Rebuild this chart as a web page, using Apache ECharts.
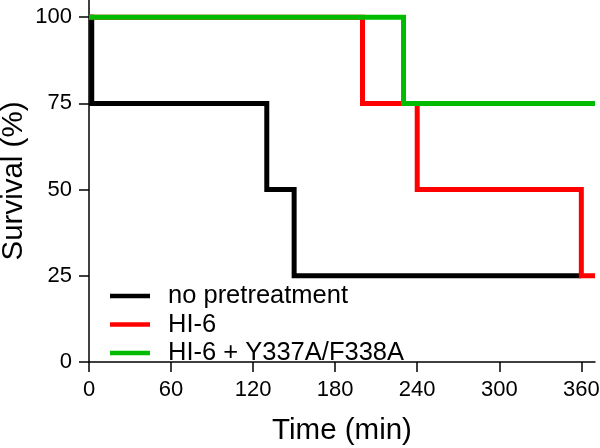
<!DOCTYPE html>
<html><head><meta charset="utf-8">
<script src="https://cdn.jsdelivr.net/npm/echarts@6/dist/echarts.min.js"></script>
<style>html,body{margin:0;padding:0;background:#fff}#c{width:600px;height:448px}</style>
</head><body><div id="c"></div>
<script>
var seriesNames = ['no pretreatment', 'HI-6', 'HI-6 + Y337A/F338A'];
var noPretreatment = [[0,100],[2,75],[130,50],[150,25],[360,25]];
var hi6 = [[0,100],[200,75],[240,50],[360,25],[370,25]];
var hi6Mutant = [[0,100],[230,75],[370,75]];
var xTicks = [0,60,120,180,240,300,360];
var yTicks = [0,25,50,75,100];
var colors = ['#000000','#ff0000','#00bb00'];

var font = 'Liberation Sans, Arial, sans-serif';
var chart = echarts.init(document.getElementById('c'));
var datas = [noPretreatment, hi6, hi6Mutant];
chart.setOption({
  animation: false,
  grid: {left: 89, right: 5, top: 0, bottom: 86, containLabel: false, outerBoundsMode: 'none'},
  legend: {
    orient: 'vertical', left: 105, top: 278,
    icon: 'rect', itemWidth: 40, itemHeight: 4.5, itemGap: 2.5,
    data: seriesNames,
    textStyle: {fontFamily: font, fontSize: 25.5, color: '#000', padding: [0,0,0,13]}
  },
  xAxis: {
    type: 'value', min: 0, max: 370,
    name: 'Time (min)', nameLocation: 'middle', nameGap: 54, nameMoveOverlap: false,
    nameTextStyle: {fontFamily: font, fontSize: 29.5, color: '#000'},
    axisLine: {onZero: false, lineStyle: {color: '#000', width: 1.5}},
    axisTick: {length: 10, lineStyle: {color: '#000', width: 1.5}, customValues: xTicks},
    axisLabel: {fontFamily: font, fontSize: 22, color: '#000', margin: 17, customValues: xTicks},
    splitLine: {show: false}
  },
  yAxis: {
    type: 'value', min: 0, max: 105,
    name: 'Survival (%)', nameLocation: 'middle', nameGap: 60, nameMoveOverlap: false,
    nameTextStyle: {fontFamily: font, fontSize: 29.5, color: '#000'},
    axisLine: {show: true, lineStyle: {color: '#000', width: 1.5}},
    axisTick: {show: true, length: 10, lineStyle: {color: '#000', width: 1.5}, customValues: yTicks},
    axisLabel: {fontFamily: font, fontSize: 22, color: '#000', margin: 17, customValues: yTicks},
    splitLine: {show: false}
  },
  series: seriesNames.map(function(n, i){
    return {
      name: n, type: 'line', step: 'end', data: datas[i],
      showSymbol: false, symbol: 'none', z: 2 + i,
      color: colors[i],
      lineStyle: {width: 5, color: colors[i], join: 'miter', cap: 'butt'}
    };
  })
});
</script></body></html>
